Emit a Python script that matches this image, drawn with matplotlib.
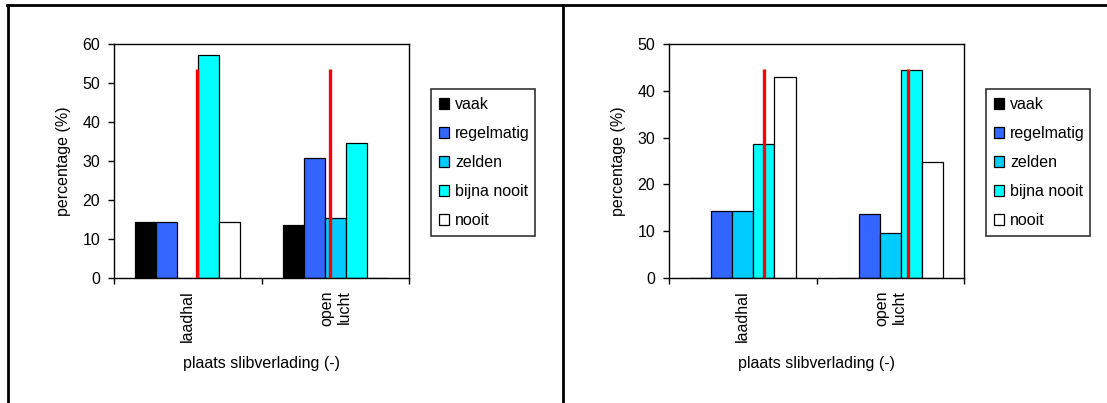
import numpy as np
import matplotlib
matplotlib.use("Agg")
import matplotlib.pyplot as plt
from matplotlib.patches import Patch
from matplotlib.lines import Line2D

plt.rcParams['font.family'] = ['Liberation Sans', 'DejaVu Sans']

places = ['laadhal', 'open\nlucht']
freq_labels = ['vaak', 'regelmatig', 'zelden', 'bijna nooit', 'nooit']
freq_colors = ['#000000', '#3366FF', '#00CCFF', '#00FFFF', '#FFFFFF']

# percentages per frequency class, one list per place
left_vals = [[14.3, 14.3, 0.0, 57.1, 14.3],
             [13.6, 30.8, 15.4, 34.6, 0.0]]
right_vals = [[0.0, 14.3, 14.3, 28.6, 42.9],
              [0.0, 13.6, 9.6, 44.4, 24.8]]

# red reference lines: offset from category centre, height
left_ref_x = [0.063, -0.035]
left_ref_h = [53.5, 53.5]
right_ref_x = [0.143, 0.120]
right_ref_h = [44.6, 44.6]

left_yticks = [0, 10, 20, 30, 40, 50, 60]
right_yticks = [0, 10, 20, 30, 40, 50]

W, H = 1107, 403
fig = plt.figure(figsize=(W / 100, H / 100), dpi=100)
fs = 11.5


def draw_panel(rect, vals, ref_x, ref_h, yticks, leg_xy):
    ax = fig.add_axes(rect)
    w = 1 / 7
    vals = np.array(vals)
    for j in range(len(freq_labels)):
        xs = np.arange(len(places)) + (j - 2) * w
        ax.bar(xs, vals[:, j], width=w, color=freq_colors[j],
               edgecolor='black', linewidth=0.9, zorder=2)
    ax.vlines(np.arange(len(places)) + np.array(ref_x), 0, ref_h,
              color='#FF0000', linewidth=2.4, zorder=3)
    ax.set_xlim(-0.5, len(places) - 0.5)
    ax.set_ylim(yticks[0], yticks[-1])
    ax.set_yticks(yticks)
    ax.set_xticks(np.arange(len(places) + 1) - 0.5)
    ax.set_xticklabels([])
    ax.set_xticks(np.arange(len(places)), minor=True)
    ax.set_xticklabels(places, minor=True, rotation=90, va='top',
                       ha='center', multialignment='right', fontsize=fs)
    ax.tick_params(axis='x', which='minor', length=0, pad=9)
    ax.tick_params(axis='x', which='major', direction='out', length=4, width=1)
    ax.tick_params(axis='y', direction='out', length=4, width=1, pad=6,
                   labelsize=fs)
    for s in ax.spines.values():
        s.set_linewidth(1)
    ax.set_ylabel('percentage (%)', fontsize=fs, labelpad=8)
    ax.set_xlabel('plaats slibverlading (-)', fontsize=fs, labelpad=10)
    handles = [Patch(facecolor=c, edgecolor='black', linewidth=0.9)
               for c in freq_colors]
    x0, y0 = leg_xy
    leg = fig.legend(handles, freq_labels, loc='upper left',
                     bbox_to_anchor=(x0 / W, 1 - y0 / H, 104 / W, 0),
                     mode='expand', fontsize=fs, frameon=True,
                     fancybox=False, borderpad=0.5, labelspacing=0.88,
                     handlelength=0.65, handleheight=0.65, handletextpad=0.35,
                     borderaxespad=0)
    leg.get_frame().set_edgecolor('black')
    leg.get_frame().set_linewidth(1.2)
    return ax


draw_panel([114 / W, 1 - 278 / H, 295 / W, 234 / H], left_vals,
           left_ref_x, left_ref_h, left_yticks, (431, 89))
draw_panel([669 / W, 1 - 278 / H, 295.3 / W, 234 / H], right_vals,
           right_ref_x, right_ref_h, right_yticks, (986, 89))

# outer frame lines around the two panels
ty = 1 - 4.7 / H
fig.add_artist(Line2D([7 / W, 1], [ty, ty], color='black', lw=2))
fig.add_artist(Line2D([7.5 / W, 7.5 / W], [0, ty], color='black', lw=2))
fig.add_artist(Line2D([562.5 / W, 562.5 / W], [0, ty], color='black', lw=2))

fig.savefig('out.png', dpi=100)
